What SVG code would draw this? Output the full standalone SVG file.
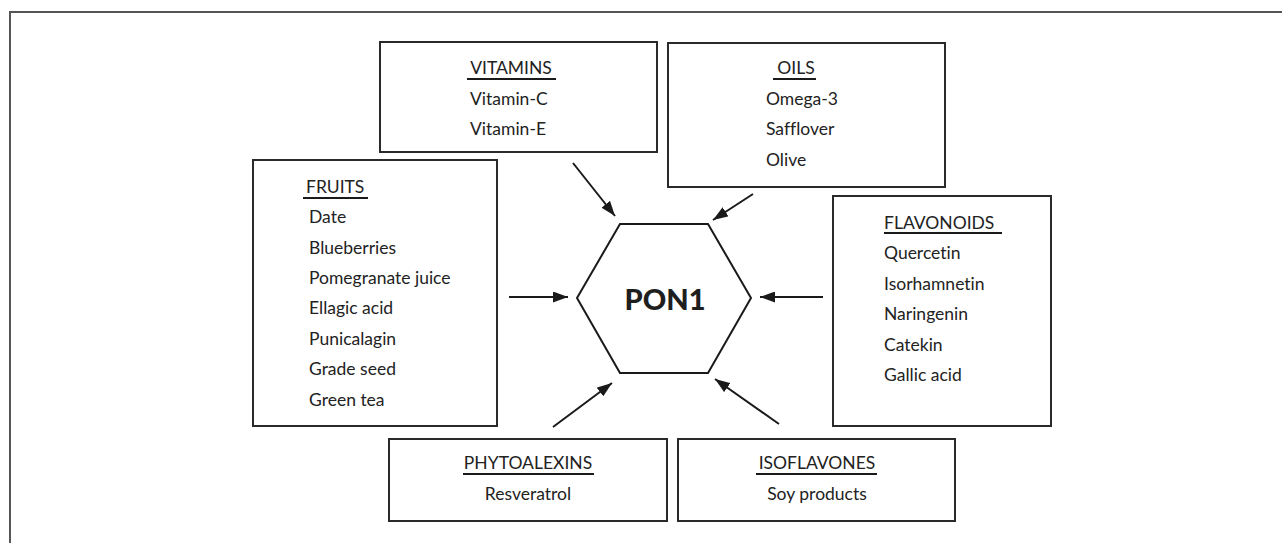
<svg xmlns="http://www.w3.org/2000/svg" width="1282" height="543" viewBox="0 0 1282 543">
<defs>
<style>
.box{fill:#fff;stroke:#2a2a2a;stroke-width:2}
.t{font-family:Lato,"Open Sans","Liberation Sans",sans-serif;font-size:17.5px;fill:#222;font-variant-ligatures:none;font-feature-settings:"liga" 0}
.m{text-anchor:middle}
.ul{stroke:#1a1a1a;stroke-width:2.2}
.arr{stroke:#1a1a1a;stroke-width:2;fill:none;marker-end:url(#ah)}
.hex{fill:#fff;stroke:#1a1a1a;stroke-width:2}
.pon{font-family:Lato,"Liberation Sans",sans-serif;font-weight:900;font-size:29px;fill:#1e1e1e;text-anchor:middle}
</style>
<marker id="ah" markerUnits="userSpaceOnUse" markerWidth="15" markerHeight="11" refX="15" refY="5.5" orient="auto">
<path d="M0,0 L15,5.5 L0,11 Z" fill="#1a1a1a"/>
</marker>
</defs>
<rect width="1282" height="543" fill="#fff"/>
<path d="M10,543 V12 H1282" fill="none" stroke="#555" stroke-width="2"/>

<g id="vitamins">
<rect class="box" x="380" y="42" width="277" height="110"/>
<text class="t m" x="511" y="74">VITAMINS</text>
<line class="ul" x1="467" y1="79" x2="556" y2="79"/>
<text class="t" x="470" y="105">Vitamin-C</text>
<text class="t" x="470" y="135">Vitamin-E</text>
</g>

<g id="oils">
<rect class="box" x="668" y="43" width="277" height="144"/>
<text class="t m" x="796" y="74">OILS</text>
<line class="ul" x1="773" y1="79" x2="816" y2="79"/>
<text class="t" x="766" y="105">Omega-3</text>
<text class="t" x="766" y="135">Safflover</text>
<text class="t" x="766" y="166">Olive</text>
</g>

<g id="fruits">
<rect class="box" x="253" y="160" width="244" height="266"/>
<text class="t" x="306" y="193">FRUITS</text>
<line class="ul" x1="303" y1="198" x2="368" y2="198"/>
<text class="t" x="309" y="223">Date</text>
<text class="t" x="309" y="254">Blueberries</text>
<text class="t" x="309" y="284">Pomegranate juice</text>
<text class="t" x="309" y="314">Ellagic acid</text>
<text class="t" x="309" y="345">Punicalagin</text>
<text class="t" x="309" y="375">Grade seed</text>
<text class="t" x="309" y="406">Green tea</text>
</g>

<g id="flavonoids">
<rect class="box" x="833" y="196" width="218" height="230"/>
<text class="t" x="884" y="229">FLAVONOIDS</text>
<line class="ul" x1="884" y1="233" x2="1002" y2="233"/>
<text class="t" x="884" y="259">Quercetin</text>
<text class="t" x="884" y="290">Isorhamnetin</text>
<text class="t" x="884" y="320">Naringenin</text>
<text class="t" x="884" y="351">Catekin</text>
<text class="t" x="884" y="381">Gallic acid</text>
</g>

<g id="phytoalexins">
<rect class="box" x="389" y="439" width="278" height="82"/>
<text class="t m" x="528" y="469">PHYTOALEXINS</text>
<line class="ul" x1="463" y1="474" x2="594" y2="474"/>
<text class="t m" x="528" y="500">Resveratrol</text>
</g>

<g id="isoflavones">
<rect class="box" x="678" y="439" width="277" height="82"/>
<text class="t m" x="817" y="469">ISOFLAVONES</text>
<line class="ul" x1="756" y1="474" x2="877" y2="474"/>
<text class="t m" x="817" y="500">Soy products</text>
</g>

<g id="pon1">
<polygon class="hex" points="620,224 708,224 751,298 708,373 620,373 577,298"/>
<text class="pon" x="665" y="309.5">PON1</text>
</g>

<g id="connectors">
<line class="arr" x1="573" y1="163" x2="615" y2="216"/>
<line class="arr" x1="753" y1="194" x2="713" y2="220"/>
<line class="arr" x1="509" y1="297" x2="568" y2="297"/>
<line class="arr" x1="823" y1="297" x2="760" y2="297"/>
<line class="arr" x1="553" y1="427" x2="612" y2="383"/>
<line class="arr" x1="779" y1="424" x2="715" y2="379"/>
</g>
</svg>
